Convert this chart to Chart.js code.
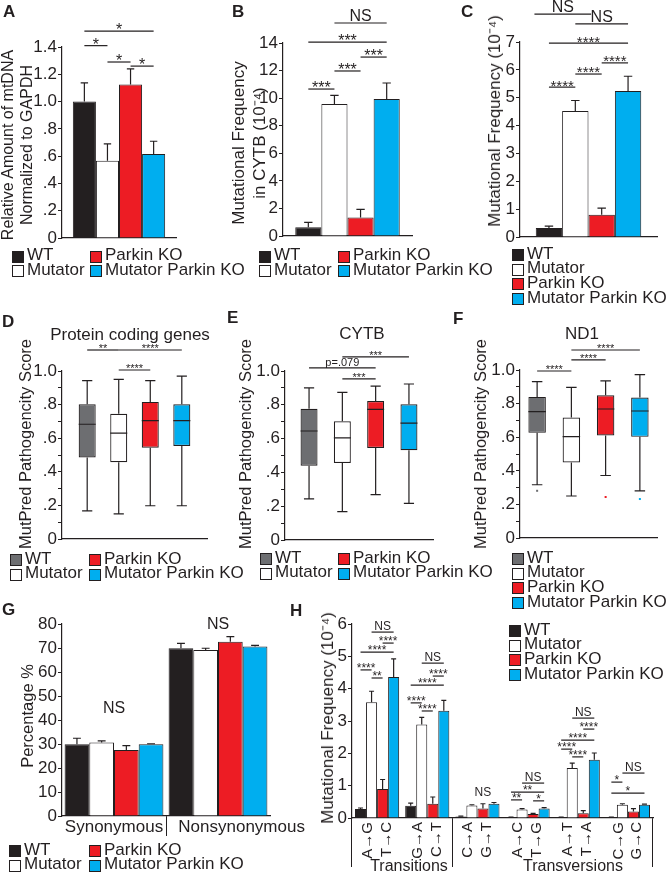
<!DOCTYPE html>
<html>
<head>
<meta charset="utf-8">
<script src="https://cdn.jsdelivr.net/npm/chart.js@4.4.1/dist/chart.umd.min.js"></script>
<style>
  body { margin: 0; background: #fff; }
  #fig { position: relative; width: 670px; height: 874px; overflow: hidden; font-family: "Liberation Sans", Arial, sans-serif; color: #231f20; }
  #fig canvas { position: absolute; }
  .t { position: absolute; white-space: nowrap; font-size: 17px; line-height: 17px; }
  .c { transform: translateX(-50%); }
  .vt { transform: translate(-50%, -50%) rotate(-90deg); text-align: center; }
  .letter { font-weight: bold; }
  .sw { position: absolute; width: 12px; height: 12px; border: 1px solid #231f20; box-sizing: border-box; }
</style>
</head>
<body>
<div id="fig">
  <canvas id="pa"></canvas>
  <canvas id="pb"></canvas>
  <canvas id="pc"></canvas>
  <canvas id="pd"></canvas>
  <canvas id="pe"></canvas>
  <canvas id="pf"></canvas>
  <canvas id="pg"></canvas>
  <canvas id="ph"></canvas>
</div>
<script>
const groups = ["WT", "Mutator", "Parkin KO", "Mutator Parkin KO"];

// A - relative mtDNA amount
const mtdnaMean = [1.0, 0.567, 1.125, 0.616];
const mtdnaErr = [0.137, 0.123, 0.115, 0.093];

// B - mutational frequency in CYTB (10^-4)
const cytbMean = [0.63, 9.57, 1.35, 9.93];
const cytbErr = [0.36, 0.63, 0.58, 1.17];

// C - mutational frequency (10^-4)
const freqMean = [0.32, 4.52, 0.8, 5.24];
const freqErr = [0.07, 0.38, 0.24, 0.53];

// D/E/F - MutPred boxes: [low whisker, q1, median, q3, high whisker]
const codingBoxes = [
  [0.168, 0.485, 0.683, 0.802, 0.943],
  [0.15, 0.457, 0.63, 0.745, 0.95],
  [0.198, 0.543, 0.705, 0.816, 0.943],
  [0.198, 0.554, 0.705, 0.802, 0.97],
];
const cytbBoxes = [
  [0.243, 0.44, 0.645, 0.777, 0.9],
  [0.168, 0.456, 0.604, 0.702, 0.874],
  [0.268, 0.544, 0.773, 0.822, 0.911],
  [0.217, 0.531, 0.692, 0.803, 0.923],
];
const nd1Boxes = [
  [0.317, 0.626, 0.752, 0.84, 0.931],
  [0.25, 0.45, 0.604, 0.717, 0.897],
  [0.372, 0.61, 0.768, 0.85, 0.935],
  [0.281, 0.602, 0.756, 0.836, 0.972],
];
const nd1Outliers = [0.281, null, 0.244, 0.232];

// G - synonymous / nonsynonymous percentage
const siteTypes = ["Synonymous", "Nonsynonymous"];
const pctMean = [[29.9, 69.9], [30.6, 69.2], [27.5, 72.6], [29.9, 70.6]];
const pctErr = [[2.5, 2.0], [0.7, 0.7], [1.8, 2.1], [0.2, 0.5]];

// H - mutational frequency per substitution (10^-4)
const substitutions = [["A→G", "T→C"], ["G→A", "C→T"], ["C→A", "G→T"], ["A→C", "T→G"], ["A→T", "T→A"], ["C→G", "G→C"]];
const subMean = [
  [0.28, 0.38, 0.05, 0.02, 0.02, 0.02],
  [3.58, 2.89, 0.39, 0.26, 1.55, 0.41],
  [0.9, 0.44, 0.29, 0.12, 0.15, 0.2],
  [4.36, 3.32, 0.44, 0.29, 1.8, 0.41],
];
const subErr = [
  [0.03, 0.08, 0.01, 0.005, 0.005, 0.005],
  [0.34, 0.22, 0.02, 0.03, 0.15, 0.03],
  [0.29, 0.21, 0.15, 0.02, 0.08, 0.09],
  [0.56, 0.32, 0.04, 0.03, 0.21, 0.02],
];

const ink = "#231f20";
const family = '"Liberation Sans", Arial, sans-serif';
const barFill = [ink, "#ffffff", "#ed1c24", "#00aeef"];
const boxFill = ["#6d6e71", "#ffffff", "#ed1c24", "#00aeef"];
const clear = "rgba(0,0,0,0)";

Chart.defaults.font.family = family;
Chart.defaults.color = ink;

// error bars, box whiskers and significance brackets
const marks = {
  id: "marks",
  afterDatasetsDraw(chart, args, opts) {
    const { ctx } = chart;
    const y = chart.scales.y;
    const py = (v) => y.getPixelForValue(v);
    ctx.save();
    ctx.strokeStyle = ink;
    ctx.fillStyle = ink;
    ctx.lineWidth = 1.2;

    chart.data.datasets.forEach((ds, i) => {
      chart.getDatasetMeta(i).data.forEach((bar, j) => {
        if (ds.errors) {
          const top = py(ds.data[j] + ds.errors[j]);
          const half = Math.max(2.5, bar.width * 0.16);
          ctx.beginPath();
          ctx.moveTo(bar.x, bar.y);
          ctx.lineTo(bar.x, top);
          ctx.moveTo(bar.x - half, top);
          ctx.lineTo(bar.x + half, top);
          ctx.stroke();
        }
        if (ds.stats) {
          const [lo, q1, med, q3, hi] = ds.stats[j];
          const cap = bar.width * 0.3;
          ctx.beginPath();
          ctx.moveTo(bar.x, py(q3));
          ctx.lineTo(bar.x, py(hi));
          ctx.moveTo(bar.x - cap, py(hi));
          ctx.lineTo(bar.x + cap, py(hi));
          ctx.moveTo(bar.x, py(q1));
          ctx.lineTo(bar.x, py(lo));
          ctx.moveTo(bar.x - cap, py(lo));
          ctx.lineTo(bar.x + cap, py(lo));
          ctx.moveTo(bar.x - bar.width / 2, py(med));
          ctx.lineTo(bar.x + bar.width / 2, py(med));
          ctx.stroke();
          if (ds.outliers && ds.outliers[j] != null) {
            ctx.fillStyle = ds.backgroundColor;
            ctx.fillRect(bar.x - 1, py(ds.outliers[j]) - 1, 2, 2);
            ctx.fillStyle = ink;
          }
        }
      });
    });

    (opts.brackets || []).forEach(([cat, a, b, v, label, bare]) => {
      const x0 = chart.getDatasetMeta(0).data[cat].x;
      const x1 = chart.getDatasetMeta(1).data[cat].x;
      const left = x0 + a * (x1 - x0);
      const right = x0 + b * (x1 - x0);
      const yy = py(v);
      if (!bare) {
        ctx.beginPath();
        ctx.moveTo(left, yy);
        ctx.lineTo(right, yy);
        ctx.stroke();
      }
      const star = label[0] === "*";
      const size = star ? opts.star : opts.text;
      ctx.font = size + "px " + family;
      ctx.textAlign = "center";
      ctx.textBaseline = "alphabetic";
      ctx.fillText(label, (left + right) / 2, star ? yy - 3 + 0.43 * size : yy - 2);
    });
    ctx.restore();
  },
};

const frac = (v) => {
  const k = Math.round(v * 10);
  if (k === 0) return "0";
  if (k % 2) return "";
  return k < 10 ? "." + k : (k / 10).toFixed(1);
};

function bars(means, errs, pct) {
  return groups.map((g, i) => ({
    label: g,
    data: Array.isArray(means[i]) ? means[i] : [means[i]],
    errors: Array.isArray(errs[i]) ? errs[i] : [errs[i]],
    backgroundColor: barFill[i],
    borderColor: ink,
    borderWidth: 1,
    categoryPercentage: pct,
    barPercentage: 1,
  }));
}

function boxes(stats, outliers, pct, bp) {
  return groups.map((g, i) => ({
    label: g,
    data: [[stats[i][1], stats[i][3]]],
    stats: [stats[i]],
    outliers: outliers ? [outliers[i]] : null,
    backgroundColor: boxFill[i],
    borderColor: ink,
    borderWidth: 1.2,
    borderSkipped: false,
    categoryPercentage: pct,
    barPercentage: bp,
  }));
}

function panel(id, box, area, spec) {
  const canvas = document.getElementById(id);
  canvas.width = box.w;
  canvas.height = box.h;
  canvas.style.left = box.x + "px";
  canvas.style.top = box.y + "px";

  const yTicks = { stepSize: spec.step, autoSkip: false, padding: 1, font: { size: 17 } };
  if (spec.fmt) yTicks.callback = spec.fmt;

  return new Chart(canvas, {
    type: "bar",
    data: { labels: spec.labels || [""], datasets: spec.datasets },
    options: {
      responsive: false,
      animation: false,
      events: [],
      layout: { padding: { left: 0, bottom: 0, top: area.t - box.y, right: box.x + box.w - area.r } },
      plugins: { legend: { display: false }, tooltip: { enabled: false }, marks: spec.marks },
      scales: {
        x: Object.assign(
          {
            afterFit: (s) => { s.height = box.y + box.h - area.b; },
            ticks: { display: false },
            grid: { display: false },
            border: { color: ink, width: 1.2 },
          },
          spec.x
        ),
        y: {
          min: 0,
          max: spec.max,
          afterFit: (s) => { s.width = area.l - box.x; },
          ticks: yTicks,
          grid: { drawOnChartArea: false, tickLength: 4, color: ink },
          border: { color: ink, width: 1.2 },
        },
      },
    },
    plugins: [marks],
  });
}

// A
panel("pa", { x: 0, y: 0, w: 222, h: 252 }, { l: 62, t: 47, r: 176, b: 238 }, {
  datasets: bars(mtdnaMean, mtdnaErr, 0.81),
  max: 1.4, step: 0.2, fmt: frac,
  marks: { star: 16, text: 16, brackets: [[0, 0, 3, 1.517, "*"], [0, 0, 1, 1.41, "*"], [0, 1, 2, 1.29, "*"], [0, 2, 3, 1.26, "*"]] },
});

// B
panel("pb", { x: 228, y: 0, w: 212, h: 252 }, { l: 283, t: 43, r: 412, b: 236 }, {
  datasets: bars(cytbMean, cytbErr, 0.81),
  max: 14, step: 2,
  marks: { star: 16, text: 16, brackets: [[0, 1, 3, 15.45, "NS"], [0, 0, 3, 14.07, "***"], [0, 2, 3, 12.98, "***"], [0, 1, 2, 11.97, "***"], [0, 0, 1, 10.66, "***"]] },
});

// C
panel("pc", { x: 484, y: 0, w: 186, h: 252 }, { l: 520, t: 42, r: 657, b: 237 }, {
  datasets: bars(freqMean, freqErr, 0.77),
  max: 7, step: 1,
  marks: { star: 15, text: 16, brackets: [[0, -0.55, 1.6, 8.0, "NS"], [0, 1, 3, 7.65, "NS"], [0, 0, 3, 6.96, "****"], [0, 2, 3, 6.25, "****"], [0, 1, 2, 5.85, "****"], [0, 0, 1, 5.38, "****"]] },
});

// D
panel("pd", { x: 0, y: 300, w: 220, h: 255 }, { l: 62, t: 371, r: 207, b: 539 }, {
  datasets: boxes(codingBoxes, null, 0.87, 0.54),
  max: 1, step: 0.1, fmt: frac,
  marks: { star: 11, text: 11, brackets: [[0, 0, 1, 1.125, "**"], [0, 1, 3, 1.125, "****"], [0, 1, 2, 1.006, "****"]] },
});

// E
panel("pe", { x: 228, y: 300, w: 212, h: 255 }, { l: 285, t: 371, r: 433, b: 540 }, {
  datasets: boxes(cytbBoxes, null, 0.9, 0.51),
  max: 1, step: 0.1, fmt: frac,
  marks: { star: 11, text: 11, brackets: [[0, 0, 2, 1.018, "p=.079"], [0, 1, 3, 1.083, "***"], [0, 1, 2, 0.953, "***"]] },
});

// F
panel("pf", { x: 462, y: 300, w: 208, h: 255 }, { l: 520, t: 370, r: 657, b: 538 }, {
  datasets: boxes(nd1Boxes, nd1Outliers, 1.0, 0.51),
  max: 1, step: 0.1, fmt: frac,
  marks: { star: 11, text: 11, brackets: [[0, 1, 3, 1.119, "****"], [0, 1, 2, 1.06, "****"], [0, 0, 1, 0.994, "****"]] },
});

// G (second label nudged right, as in the figure)
panel("pg", { x: 0, y: 600, w: 318, h: 245 }, { l: 62, t: 624, r: 270, b: 816 }, {
  labels: siteTypes.map((s, i) => (i ? "\u00a0".repeat(10) + s : s)),
  datasets: bars(pctMean, pctErr, 0.95),
  max: 80, step: 10,
  x: {
    ticks: { display: true, font: { size: 17 }, padding: -19, maxRotation: 0, autoSkip: false },
    grid: { display: true, drawOnChartArea: false, tickLength: 20, color: (c) => (c.index === 1 ? ink : clear) },
  },
  marks: { star: 16, text: 16, brackets: [[0, 0, 3, 42.2, "NS", true], [1, 0, 3, 77.2, "NS", true]] },
});

// H
panel("ph", { x: 318, y: 600, w: 352, h: 274 }, { l: 352, t: 624, r: 653, b: 818 }, {
  labels: substitutions,
  datasets: bars(subMean, subErr, 0.88),
  max: 6, step: 1,
  x: {
    ticks: { display: true, font: { size: 15, lineHeight: 1.25 }, minRotation: 90, maxRotation: 90, autoSkip: false, padding: -45, labelOffset: -9.4 },
    grid: {
      display: true, drawOnChartArea: false, tickLength: 49,
      color: (c) => (c.index === undefined || c.index === 0 || c.index === 2 ? ink : clear),
    },
  },
  marks: {
    star: 12, text: 12,
    brackets: [
      [0, 1, 3, 5.75, "NS"], [0, 2, 3, 5.41, "****"], [0, 0, 3, 5.13, "****"], [0, 0, 1, 4.58, "****"], [0, 1, 2, 4.33, "**"],
      [1, 1, 3, 4.79, "NS"], [1, 2, 3, 4.39, "****"], [1, 0, 3, 4.11, "****"], [1, 0, 1, 3.56, "****"], [1, 1, 2, 3.31, "****"],
      [2, 1, 3, 0.61, "NS", true],
      [3, 1, 3, 1.08, "NS"], [3, 0, 3, 0.8, "**"], [3, 0, 1, 0.56, "**"], [3, 2, 3, 0.53, "*"],
      [4, 1, 3, 3.09, "NS"], [4, 2, 3, 2.75, "****"], [4, 0, 3, 2.41, "****"], [4, 0, 1, 2.13, "****"], [4, 1, 2, 1.89, "****"],
      [5, 1, 3, 1.39, "NS"], [5, 0, 1, 1.11, "*"], [5, 0, 3, 0.77, "*"],
    ],
  },
});

// Text labels, axis titles, panel letters and legends
const fig = document.getElementById("fig");

function text(str, x, y, cls, size) {
  const el = document.createElement("div");
  el.className = "t " + (cls || "");
  el.textContent = str;
  el.style.left = x + "px";
  el.style.top = y + "px";
  if (size) { el.style.fontSize = size + "px"; el.style.lineHeight = size + "px"; }
  fig.append(el);
  return el;
}

function vtitle(lines, cx, cy, size, lh) {
  const el = text("", cx, cy, "vt");
  el.style.fontSize = size + "px";
  el.style.lineHeight = lh + "px";
  lines.forEach((line, i) => {
    if (i) el.append(document.createElement("br"));
    el.append(line);
  });
}

function legend(x, y, fills, gap) {
  groups.forEach((g, i) => {
    const col = gap ? Math.floor(i / 2) : 0;
    const row = gap ? i % 2 : i;
    const sx = x + col * (gap || 0);
    const cy = y + row * (gap ? 14.5 : 14.6);
    const sw = document.createElement("div");
    sw.className = "sw";
    sw.style.left = sx + "px";
    sw.style.top = cy - 6 + "px";
    sw.style.background = fills[i];
    fig.append(sw);
    text(g, sx + 15, cy - 10.3);
  });
}

[["A", 3, 3], ["B", 232, 3], ["C", 461, 3], ["D", 2, 313], ["E", 227, 309], ["F", 453, 310], ["G", 2, 601], ["H", 290, 602]]
  .forEach(([s, x, y]) => text(s, x, y, "letter"));

vtitle(["Relative Amount of mtDNA", "Normalized to GAPDH"], 17, 145, 16, 19);
vtitle(["Mutational Frequency", "in CYTB (10⁻⁴)"], 249, 143, 17, 21);
vtitle(["Mutational Frequency  (10⁻⁴)"], 494.5, 121, 17, 20);
vtitle(["MutPred Pathogencity Score"], 24.5, 444, 16.5, 20);
vtitle(["MutPred Pathogencity Score"], 245, 444, 16.5, 20);
vtitle(["MutPred Pathogencity Score"], 480, 444, 16.5, 20);
vtitle(["Percentage %"], 26.5, 716, 16.5, 20);
vtitle(["Mutational Frequency  (10⁻⁴)"], 328, 718, 17, 20);

text("Protein coding genes", 130, 326, "c");
text("CYTB", 362, 325, "c");
text("ND1", 582, 325, "c");
text("Transitions", 409, 858, "c", 16);
text("Transversions", 573, 858, "c", 16);

legend(12, 256.5, barFill, 78);
legend(259, 256.5, barFill, 79);
legend(512, 255, barFill);
legend(10, 560, boxFill, 79);
legend(260, 559, boxFill, 78);
legend(512, 559, boxFill);
legend(9, 851, barFill, 80);
legend(509, 631, barFill);
</script>
</body>
</html>
